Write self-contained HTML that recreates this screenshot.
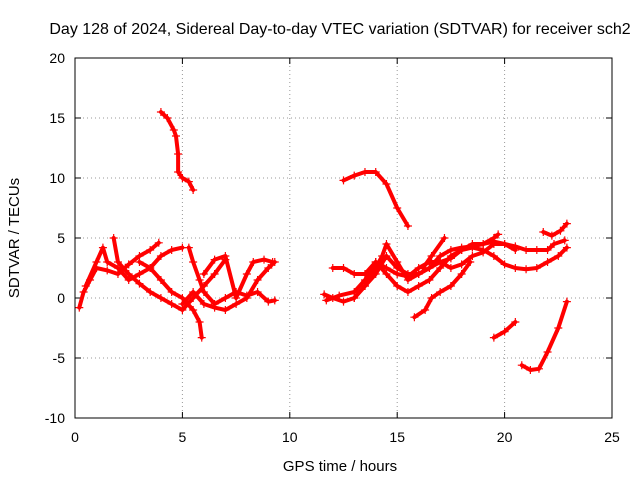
<!DOCTYPE html>
<html><head><meta charset="utf-8"><style>
body{margin:0;background:#fff;}
svg{font-family:"Liberation Sans",sans-serif;}
</style></head><body>
<svg id="chart" width="640" height="480" viewBox="0 0 640 480" xmlns="http://www.w3.org/2000/svg">
<rect width="640" height="480" fill="#fff"/>
<text x="340" y="34" font-size="16" text-anchor="middle">Day 128 of 2024, Sidereal Day-to-day VTEC variation (SDTVAR) for receiver sch2</text>
<g id="grid"></g>
<g id="ticks"></g>
<g id="series"></g>
<rect x="75" y="58" width="537" height="360" fill="none" stroke="#000" stroke-width="1"/>
<text x="340" y="471" font-size="15" text-anchor="middle">GPS time / hours</text>
<text transform="translate(19,238) rotate(-90)" font-size="15" text-anchor="middle">SDTVAR / TECUs</text>
</svg>
<script>
const xTicks=[0,5,10,15,20,25];
const yTicks=[-10,-5,0,5,10,15,20];
const trackTop=[[4,15.5],[4.3,15],[4.6,14],[4.7,13.5],[4.8,12],[4.8,10.5],[5,10],[5.3,9.7],[5.5,9]];
const trackA=[[0.2,-0.8],[0.4,0.5],[0.7,1.5],[1,2.5],[1.5,2.3],[2,2],[2.5,2.8],[3,3.5],[3.5,4],[3.9,4.6]];
const trackB=[[0.5,1],[1,3],[1.3,4.2],[1.5,3],[2,2.5],[2.5,1.5],[3,2],[3.5,2.5],[4,3.5],[4.5,4],[5,4.2]];
const trackC=[[1.8,5],[2,3],[2.5,2],[3,1.2],[3.5,0.5],[4,0],[4.5,-0.5],[5,-1],[5.5,0],[6,1],[6.5,2],[7,3.2]];
const trackD=[[3,3],[3.5,2.5],[4,1.5],[4.5,0.5],[5,0],[5.5,-1],[5.8,-2],[5.9,-3.3]];
const trackE=[[5.3,4.2],[5.5,3],[5.8,1.5],[6,0.5],[6.5,-0.5],[7,0],[7.5,0.5],[8,0.2],[8.5,0.5],[9,-0.3],[9.3,-0.2]];
const trackF=[[5,-0.5],[5.5,0.5],[6,-0.5],[6.5,-0.8],[7,-1],[7.5,-0.5],[8,0],[8.5,1.5],[9,2.5],[9.3,3]];
const trackG=[[6,2],[6.5,3.2],[7,3.5],[7.5,0],[8,2],[8.3,3],[8.8,3.2],[9.2,3]];
const trackI=[[12.5,9.8],[13,10.2],[13.5,10.5],[14,10.5],[14.5,9.5],[15,7.5],[15.5,6]];
const trackJ=[[11.6,0.3],[12,0],[12.5,-0.3],[13,0],[13.5,1],[14,2.5],[14.3,3.5],[14.5,4.5],[15,3],[15.5,1.5],[16,2],[16.5,2.5],[17,3.5],[17.5,4],[18,4.2],[18.5,4.3],[19,4.5],[19.5,4.7],[20,4.5],[20.5,4.3],[21,4],[21.5,4],[22,4],[22.3,4.5],[22.8,4.8]];
const trackK=[[12,2.5],[12.5,2.5],[13,2],[13.5,2],[14,3],[14.5,2.5],[15,2],[15.5,1.8],[16,2.5],[16.5,3],[17,3],[17.5,3.3],[18,4],[18.5,4.2],[19,4],[19.5,3.5],[20,2.8],[20.5,2.5],[21,2.4],[21.5,2.5],[22,3],[22.5,3.5],[22.9,4.2]];
const trackL=[[11.7,-0.2],[12.3,0.2],[13,0.5],[13.5,1.5],[14,3],[14.5,2],[15,1],[15.5,0.5],[16,1],[16.5,1.5],[17,2.5],[17.5,3.5],[18,4],[18.5,4.5],[19,4.5],[19.5,5],[19.7,5.3]];
const trackM=[[13,0],[13.5,1],[14,2],[14.5,3.5],[15,2.5],[15.5,2],[16,2],[16.5,2.5],[17,3],[17.5,2.5],[18,2.8],[18.5,3.5],[19,3.8],[19.5,4.5],[20,4.5],[20.5,4]];
const trackN=[[15.8,-1.6],[16.3,-1],[16.6,0],[17,0.5],[17.5,1],[18,2],[18.4,3]];
const trackN2=[[16.2,2.5],[16.6,3.5],[17.2,5]];
const trackO=[[19.5,-3.3],[20,-2.8],[20.5,-2]];
const trackP=[[20.8,-5.6],[21.2,-6],[21.6,-5.9],[22,-4.5],[22.5,-2.5],[22.9,-0.3]];
const trackQ=[[21.8,5.5],[22.2,5.2],[22.6,5.6],[22.9,6.2]];
const tracks=[trackTop,trackA,trackB,trackC,trackD,trackE,trackF,trackG,trackI,trackJ,trackK,trackL,trackM,trackN,trackN2,trackO,trackP,trackQ];

const NS="http://www.w3.org/2000/svg";
const X0=75,X1=612,Y0=418,Y1=58;
function xs(t){return X0+(t-0)/(25-0)*(X1-X0);}
function ys(v){return Y0-(v+10)/30*(Y0-Y1);}
const grid=document.getElementById('grid'),ticks=document.getElementById('ticks'),series=document.getElementById('series');
function mk(tag,attrs,parent){const e=document.createElementNS(NS,tag);for(const k in attrs)e.setAttribute(k,attrs[k]);parent.appendChild(e);return e;}
xTicks.forEach(t=>{
  const x=xs(t);
  if(t>0&&t<25){const g=mk('line',{x1:x,y1:Y1,x2:x,y2:Y0,stroke:'#999','stroke-dasharray':'1,3'},grid);
  
  }
  mk('line',{x1:x,y1:Y0,x2:x,y2:Y0-6,stroke:'#000'},ticks);
  mk('line',{x1:x,y1:Y1,x2:x,y2:Y1+6,stroke:'#000'},ticks);
  const l=mk('text',{x:x,y:Y0+24,'font-size':14,'text-anchor':'middle'},ticks);
  l.textContent=t;
  
  
});
yTicks.forEach(v=>{
  const y=ys(v);
  if(v>-10&&v<20){const g=mk('line',{x1:X0,y1:y,x2:X1,y2:y,stroke:'#999','stroke-dasharray':'1,3'},grid);
  
  }
  mk('line',{x1:X0,y1:y,x2:X0+6,y2:y,stroke:'#000'},ticks);
  mk('line',{x1:X1,y1:y,x2:X1-6,y2:y,stroke:'#000'},ticks);
  const l=mk('text',{x:X0-10,y:y+5,'font-size':14,'text-anchor':'end'},ticks);
  l.textContent=v;
  
  
});
tracks.forEach(tr=>{
  const p=mk('polyline',{points:tr.map(d=>xs(d[0])+','+ys(d[1])).join(' '),fill:'none',stroke:'#f00','stroke-width':4,'stroke-linejoin':'round','stroke-linecap':'round'},series);
  
  
  tr.forEach(d=>{
    const x=xs(d[0]),y=ys(d[1]);
    const m=mk('path',{d:`M${x-4},${y}H${x+4}M${x},${y-4}V${y+4}`,stroke:'#f00','stroke-width':1.2},series);
    
    
  });
});
</script>
</body></html>
